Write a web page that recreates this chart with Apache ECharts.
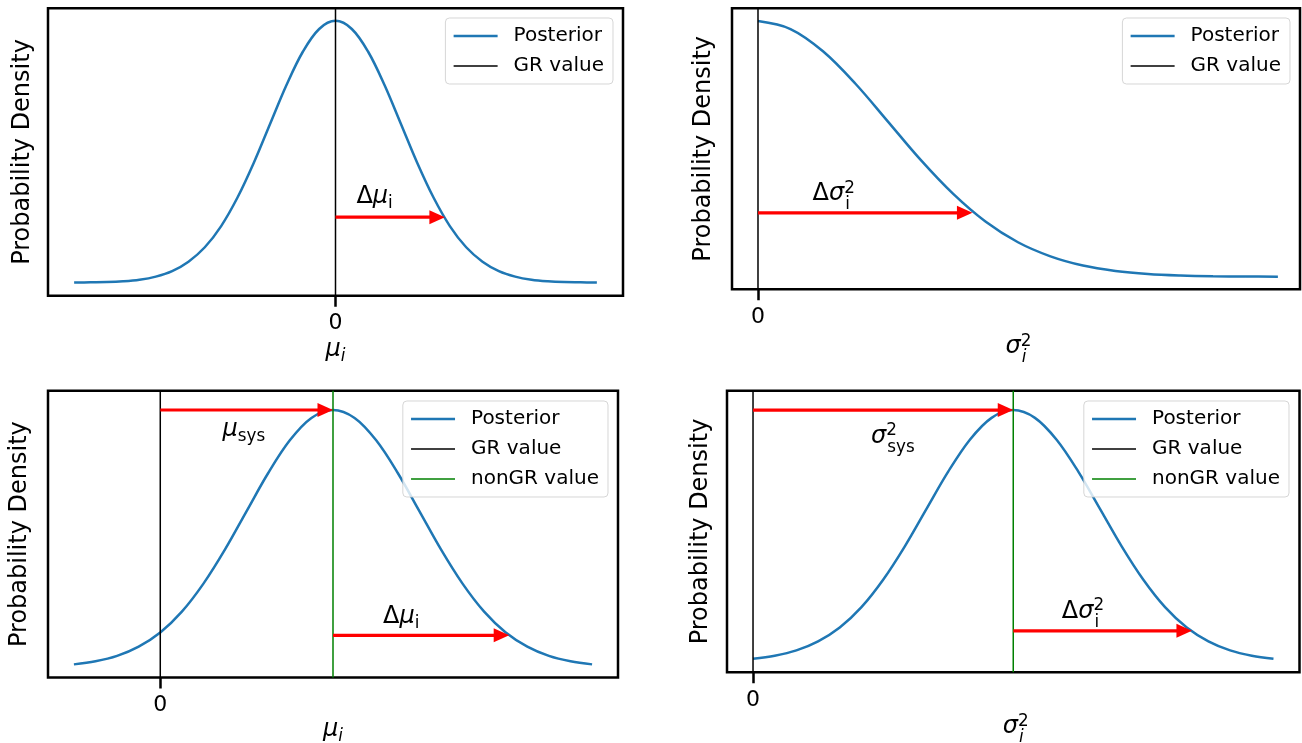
<!DOCTYPE html>
<html>
<head>
<meta charset="utf-8">
<script src="https://cdn.jsdelivr.net/npm/echarts@6.0.0/dist/echarts.min.js"></script>
<style>
  html, body { margin: 0; padding: 0; background: #ffffff; }
  #chart { width: 1302px; height: 743px; }
</style>
</head>
<body>
<div id="chart"></div>
<script>
// ---- Posterior curves (density scaled so that the mode equals 1) ----
const p1Mu = [-4, -3.75, -3.5, -3.25, -3, -2.75, -2.5, -2.25, -2, -1.75, -1.5, -1.25, -1, -0.75, -0.5, -0.25,
  0, 0.25, 0.5, 0.75, 1, 1.25, 1.5, 1.75, 2, 2.25, 2.5, 2.75, 3, 3.25, 3.5, 3.75, 4];
const p1Density = [0.000, 0.001, 0.002, 0.005, 0.011, 0.023, 0.044, 0.080, 0.135, 0.216, 0.325, 0.458, 0.607, 0.755, 0.882, 0.969,
  1.000, 0.969, 0.882, 0.755, 0.607, 0.458, 0.325, 0.216, 0.135, 0.080, 0.044, 0.023, 0.011, 0.005, 0.002, 0.001, 0.000];

const p2Var = [0, 0.25, 0.5, 0.75, 1, 1.25, 1.5, 1.75, 2, 2.25, 2.5, 2.75, 3, 3.25, 3.5, 3.75, 4];
const p2Density = [1.000, 0.969, 0.882, 0.755, 0.607, 0.458, 0.325, 0.216, 0.135, 0.080, 0.044, 0.023, 0.011, 0.005, 0.002, 0.001, 0.000];

const p3Mu = [-1, -0.75, -0.5, -0.25, 0, 0.25, 0.5, 0.75, 1, 1.25, 1.5, 1.75, 2, 2.25, 2.5, 2.75, 3, 3.25, 3.5, 3.75, 4, 4.25, 4.5, 4.75, 5];
const p3Density = [0.011, 0.023, 0.044, 0.080, 0.135, 0.216, 0.325, 0.458, 0.607, 0.755, 0.882, 0.969, 1.000,
  0.969, 0.882, 0.755, 0.607, 0.458, 0.325, 0.216, 0.135, 0.080, 0.044, 0.023, 0.011];

const p4Var = [0, 0.25, 0.5, 0.75, 1, 1.25, 1.5, 1.75, 2, 2.25, 2.5, 2.75, 3, 3.25, 3.5, 3.75, 4, 4.25, 4.5, 4.75, 5, 5.25, 5.5, 5.75, 6];
const p4Density = [0.011, 0.023, 0.044, 0.080, 0.135, 0.216, 0.325, 0.458, 0.607, 0.755, 0.882, 0.969, 1.000,
  0.969, 0.882, 0.755, 0.607, 0.458, 0.325, 0.216, 0.135, 0.080, 0.044, 0.023, 0.011];

// reference values: GR prediction and the shifted (non-GR) value
const grValues = [0, 0, 0, 0];
const nonGrValues = [null, null, 2, 3];

// arrows: [start, end, height]
const p1Arrows = [[0, 1.674, 0.25]];
const p2Arrows = [[0, 1.65, 0.25]];
const p3Arrows = [[0, 2, 1.0], [2, 4.04, 0.124]];
const p4Arrows = [[0, 3, 1.0], [3, 5.06, 0.122]];

// arrow captions (rich-text markup)
const p1Notes = ['{up|Δ}{it|μ}{sub|i}'];
const p2Notes = ['{up|Δ}{it|σ}{sup|2}{low|i}'];
const p3Notes = ['{it|μ}{sub|sys}', '{up|Δ}{it|μ}{sub|i}'];
const p4Notes = ['{it|σ}{sup|2}{low|sys}', '{up|Δ}{it|σ}{sup|2}{low|i}'];

const xTickValues = [0];
const xTickLabels = ['0'];

// ---- styling ----
const FONT = 'DejaVu Sans';
const BLUE = '#1f77b4';
const RED = '#ff0000';
const GREEN = '#008000';
const LEGEND_WIDTHS = { 'Posterior': 2.4, 'GR value': 1.5, 'nonGR value': 1.5 };

// math-like rich text: italic symbols, shrunken sub/superscripts;
// every token is left aligned so the zero-advance superscript stacks over the subscript
function mathRich(size, colorKey, withFont) {
  const s = +(size * 0.7).toFixed(1);
  const mk = (fs, italic, extra) => {
    const o = { fontFamily: FONT, fontSize: fs, align: 'left' };
    o[colorKey] = '#000000';
    if (italic) o.fontStyle = 'italic';
    if (withFont) o.font = (italic ? 'italic ' : '') + fs + 'px "' + FONT + '"';
    return Object.assign(o, extra || {});
  };
  return {
    up: mk(size, false),
    it: mk(size, true),
    sub: mk(s, false, { padding: [size * 0.55, 0, 0, 0] }),
    subIt: mk(s, true, { padding: [size * 0.55, 0, 0, 0] }),
    sup: mk(s, false, { width: 1, padding: [0, 0, size * 0.49, 0] }),
    low: mk(s, false, { padding: [size * 0.87, 0, 0, 0] }),
    lowIt: mk(s, true, { padding: [size * 0.87, 0, 0, 0] })
  };
}

const NOTE_SIZE = 24;

const panels = [
  {
    grid: { left: 48, top: 8.3, width: 575, height: 287.4 },
    xRange: [-4.4, 4.4], yRange: [-0.050, 1.048],
    xs: p1Mu, ys: p1Density,
    xName: '{it|μ}{subIt|i}', xGap: 39, yGap: 13,
    legend: { right: 689, top: 18, items: ['Posterior', 'GR value'] },
    arrows: p1Arrows, notes: p1Notes, noteAt: [[0.32, 0.327]],
    gr: grValues[0], nonGr: nonGrValues[0]
  },
  {
    grid: { left: 732, top: 8.3, width: 568, height: 281 },
    xRange: [-0.2, 4.17], yRange: [-0.049, 1.050],
    xs: p2Var, ys: p2Density,
    xName: '{it|σ}{sup|2}{lowIt|i}', xGap: 39, yGap: 16,
    legend: { right: 12, top: 18, items: ['Posterior', 'GR value'] },
    arrows: p2Arrows, notes: p2Notes, noteAt: [[0.42, 0.323]],
    gr: grValues[1], nonGr: nonGrValues[1]
  },
  {
    grid: { left: 48, top: 390.7, width: 570, height: 286.8 },
    xRange: [-1.3, 5.3], yRange: [-0.040, 1.075],
    xs: p3Mu, ys: p3Density,
    xName: '{it|μ}{subIt|i}', xGap: 37, yGap: 16,
    legend: { right: 694, top: 401, items: ['Posterior', 'GR value', 'nonGR value'] },
    arrows: p3Arrows, notes: p3Notes, noteAt: [[0.72, 0.922], [2.58, 0.196]],
    gr: grValues[2], nonGr: nonGrValues[2]
  },
  {
    grid: { left: 727, top: 390.7, width: 572.5, height: 281.6 },
    xRange: [-0.3, 6.3], yRange: [-0.043, 1.077],
    xs: p4Var, ys: p4Density,
    xName: '{it|σ}{sup|2}{lowIt|i}', xGap: 36, yGap: 14,
    legend: { right: 13, top: 401, items: ['Posterior', 'GR value', 'nonGR value'] },
    arrows: p4Arrows, notes: p4Notes, noteAt: [[1.36, 0.893], [3.56, 0.197]],
    gr: grValues[3], nonGr: nonGrValues[3]
  }
];

function drawArrow(params, api) {
  const h = api.value(2);
  const from = api.coord([api.value(0), h]);
  const to = api.coord([api.value(1), h]);
  const headLen = 15.5, headHalf = 7;
  return {
    type: 'group',
    children: [
      { type: 'line', shape: { x1: from[0], y1: from[1], x2: to[0] - headLen + 2, y2: to[1] },
        style: { stroke: RED, lineWidth: 3.2, lineCap: 'butt' } },
      { type: 'polygon', shape: { points: [[to[0], to[1]], [to[0] - headLen, to[1] - headHalf], [to[0] - headLen, to[1] + headHalf]] },
        style: { fill: RED } }
    ]
  };
}

const noteRich = mathRich(NOTE_SIZE, 'fill', true);
function noteRenderer(texts) {
  return function (params, api) {
    const p = api.coord([api.value(0), api.value(1)]);
    return {
      type: 'text', x: p[0], y: p[1],
      style: { text: texts[params.dataIndex], fill: '#000000',
               font: NOTE_SIZE + 'px "' + FONT + '"', fontSize: NOTE_SIZE, fontFamily: FONT,
               align: 'left', verticalAlign: 'middle', rich: noteRich }
    };
  };
}

const option = {
  animation: false,
  backgroundColor: '#ffffff',
  textStyle: { fontFamily: FONT, color: '#000000' },
  grid: [], xAxis: [], yAxis: [], legend: [], series: []
};

panels.forEach((p, i) => {
  option.grid.push(Object.assign({
    show: true, borderColor: '#000000', borderWidth: 2.5, backgroundColor: 'transparent',
    containLabel: false, outerBoundsMode: 'none'
  }, p.grid));

  option.xAxis.push({
    type: 'value', gridIndex: i, min: p.xRange[0], max: p.xRange[1], position: 'bottom',
    name: p.xName, nameLocation: 'middle', nameGap: p.xGap, nameMoveOverlap: false,
    nameTextStyle: { fontSize: 24, fontFamily: FONT, color: '#000000', rich: mathRich(24, 'color', false) },
    axisLine: { show: false, onZero: false },
    splitLine: { show: false },
    axisTick: { show: true, inside: false, length: 11, customValues: xTickValues,
                lineStyle: { color: '#000000', width: 2.5 } },
    axisLabel: { show: true, margin: 17, fontSize: 22, fontFamily: FONT, color: '#000000',
                 customValues: xTickValues,
                 formatter: (v) => xTickLabels[xTickValues.indexOf(v)] ?? '' }
  });

  option.yAxis.push({
    type: 'value', gridIndex: i, min: p.yRange[0], max: p.yRange[1],
    name: 'Probability Density', nameLocation: 'middle', nameGap: p.yGap, nameRotate: 90,
    nameMoveOverlap: false,
    nameTextStyle: { fontSize: 24, fontFamily: FONT, color: '#000000' },
    axisLine: { show: false, onZero: false }, axisTick: { show: false }, axisLabel: { show: false },
    splitLine: { show: false }
  });

  option.legend.push({
    orient: 'vertical', right: p.legend.right, top: p.legend.top,
    data: p.legend.items.map((name) => ({ name: name, lineStyle: { width: LEGEND_WIDTHS[name] } })),
    itemWidth: 44, itemHeight: 20, itemGap: 10, padding: [8, 9, 8, 7],
    backgroundColor: 'rgba(255,255,255,0.8)', borderColor: 'rgba(204,204,204,0.8)',
    borderWidth: 1, borderRadius: 4, selectedMode: false,
    itemStyle: { opacity: 0 },
    textStyle: { fontSize: 20, fontFamily: FONT, color: '#000000', lineHeight: 20, padding: [0, 0, 0, 11] }
  });

  option.series.push({
    type: 'line', name: 'Posterior', xAxisIndex: i, yAxisIndex: i,
    data: p.xs.map((x, k) => [x, p.ys[k]]),
    symbol: 'none', smooth: 0.35, silent: true, z: 3,
    lineStyle: { color: BLUE, width: 2.5 }, itemStyle: { color: BLUE, opacity: 0 }
  });

  option.series.push({
    type: 'line', name: 'GR value', xAxisIndex: i, yAxisIndex: i,
    data: [[p.gr, p.yRange[0]], [p.gr, p.yRange[1]]],
    symbol: 'none', silent: true, z: 4,
    lineStyle: { color: '#000000', width: 1.5 }, itemStyle: { color: '#000000', opacity: 0 }
  });

  if (p.nonGr !== null) {
    option.series.push({
      type: 'line', name: 'nonGR value', xAxisIndex: i, yAxisIndex: i,
      data: [[p.nonGr, p.yRange[0]], [p.nonGr, p.yRange[1]]],
      symbol: 'none', silent: true, z: 4,
      lineStyle: { color: GREEN, width: 1.5 }, itemStyle: { color: GREEN, opacity: 0 }
    });
  }

  option.series.push({
    type: 'custom', name: 'arrows' + i, xAxisIndex: i, yAxisIndex: i, silent: true, z: 5,
    encode: { x: [0, 1], y: 2 },
    data: p.arrows, renderItem: drawArrow
  });

  option.series.push({
    type: 'custom', name: 'notes' + i, xAxisIndex: i, yAxisIndex: i, silent: true, z: 6,
    encode: { x: 0, y: 1 },
    data: p.noteAt, renderItem: noteRenderer(p.notes)
  });
});

const chart = echarts.init(document.getElementById('chart'), null, { renderer: 'canvas' });
chart.setOption(option);
</script>
</body>
</html>
